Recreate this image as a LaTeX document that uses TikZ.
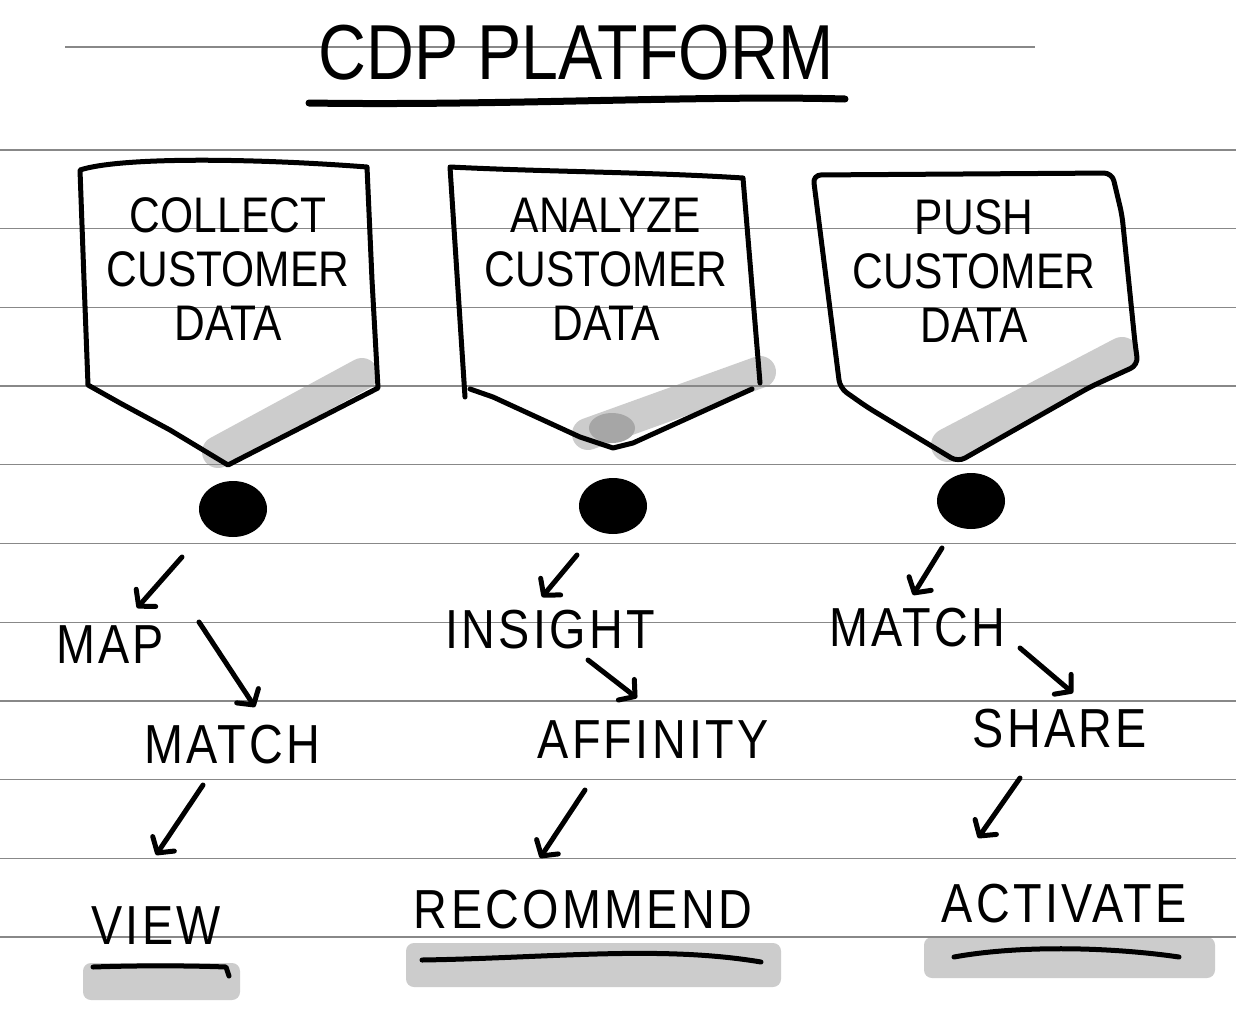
\documentclass[tikz,border=0pt]{standalone}
\usepackage{fontspec}
\setmainfont{Liberation Sans}[FakeStretch=0.85]
\newfontfamily\handlbl{Liberation Sans}[FakeStretch=0.85,LetterSpace=6]
\usetikzlibrary{arrows.meta,shapes.geometric}
\definecolor{ruleline}{HTML}{888888}
\definecolor{shadegray}{HTML}{CCCCCC}
\definecolor{shadedark}{HTML}{A6A6A6}
\tikzset{
  pen/.style={line width=5pt,line cap=round,line join=round},
  arr/.style={pen,-{Straight Barb[round,length=11pt,width=26pt]}},
  dot/.style={ellipse,fill=black,inner sep=0pt,minimum width=68pt,minimum height=56pt},
  lbl/.style={inner sep=0pt,font=\handlbl\fontsize{55}{60}\selectfont},
  boxtxt/.style={inner sep=0pt,align=center,font=\fontsize{50}{54}\selectfont},
}
\begin{document}
\begin{tikzpicture}[x=1pt,y=-1pt]
  \useasboundingbox (0,0) rectangle (1236,1012);
  \fill[white] (0,0) rectangle (1236,1012);
  % shadows
  \draw[shadegray,line width=32pt,line cap=round] (218,452) -- (362,374);
  \draw[shadegray,line width=32pt,line cap=round] (588,434) -- (760,372);
  \fill[shadedark] (612,428) ellipse (23 and 15);
  \draw[shadegray,line width=34pt,line cap=round] (948,445) -- (1122,354);
  \fill[shadegray,rounded corners=8pt] (83,963) rectangle (240,1000);
  \fill[shadegray,rounded corners=8pt] (406,943) rectangle (781,987);
  \fill[shadegray,rounded corners=8pt] (924,937) rectangle (1215,978);
  % ruled paper
  \draw[ruleline,line width=1.3pt] (65,47) -- (1035,47);
  \foreach \k in {0,...,10}
    \draw[ruleline,line width=1.3pt] (0,150+78.7*\k) -- (1236,150+78.7*\k);
  % title
  \node[inner sep=0pt,font=\fontsize{78}{80}\selectfont] (title) at (576,53) {CDP PLATFORM};
  \draw[line width=7pt,line cap=round] (309,103) .. controls (500,106) and (700,95) .. (845,99);
  % shields
  \draw[pen] (80,170) .. controls (120,157) and (250,158) .. (367,167) -- (372,280) -- (378,388)
    -- (228,465) -- (170,430) -- (120,403) -- (88,385) -- (84,280) -- cycle;
  \draw[pen] (465,397) -- (450,167) .. controls (550,172) and (650,172) .. (743,178) -- (760,383);
  \draw[pen] (470,389) -- (493,397) -- (580,437) -- (613,448) -- (633,443) -- (752,389);
  \draw[pen,rounded corners=8pt] (840,388) -- (813,175) -- (1112,173) -- (1122,215)
    -- (1135,343) -- (1138,365) -- (1090,387) -- (958,462) -- (867,407) -- cycle;
  \foreach \name/\x/\y/\txt in {box1/228/269/COLLECT\\CUSTOMER\\DATA,
      box2/606/269/ANALYZE\\CUSTOMER\\DATA,
      box3/974/271/PUSH\\CUSTOMER\\DATA}
    \node[boxtxt] (\name) at (\x,\y) {\txt};
  % dots
  \foreach \name/\x/\y in {dot1/233/509, dot2/613/506, dot3/971/501}
    \node[dot] (\name) at (\x,\y) {};
  % steps
  \foreach \name/\x/\y/\txt in {map1/110/645/MAP, match1/232/745/MATCH, view/156/926/VIEW,
      insight/550/630/INSIGHT, affinity/653/740/AFFINITY, recommend/583/910/RECOMMEND,
      match3/917/628/MATCH, share/1060/729/SHARE, activate/1064/904/ACTIVATE}
    \node[lbl] (\name) at (\x,\y) {\txt};
  \foreach \a/\sx/\sy/\b/\ex/\ey in {dot1/-51/48/map1/27/-37, map1/89/-23/match1/23/-38,
      match1/-29/40/view/0/-71, dot2/-36/49/insight/-8/-33, insight/38/30/affinity/-16/-42,
      affinity/-68/50/recommend/-43/-52, dot3/-29/47/match3/-4/-33,
      match3/103/20/share/13/-36, share/-40/49/activate/-86/-66}
    \draw[arr] ([shift={(\sx,\sy)}]\a.center) -- ([shift={(\ex,\ey)}]\b.center);
  % underlines
  \draw[pen] (93,967) .. controls (150,965) and (200,966) .. (226,967) -- (229,976);
  \draw[pen] (422,960) .. controls (550,958) and (660,945) .. (761,962);
  \draw[pen] (954,957) .. controls (1020,945) and (1110,947) .. (1179,957);
\end{tikzpicture}
\end{document}
